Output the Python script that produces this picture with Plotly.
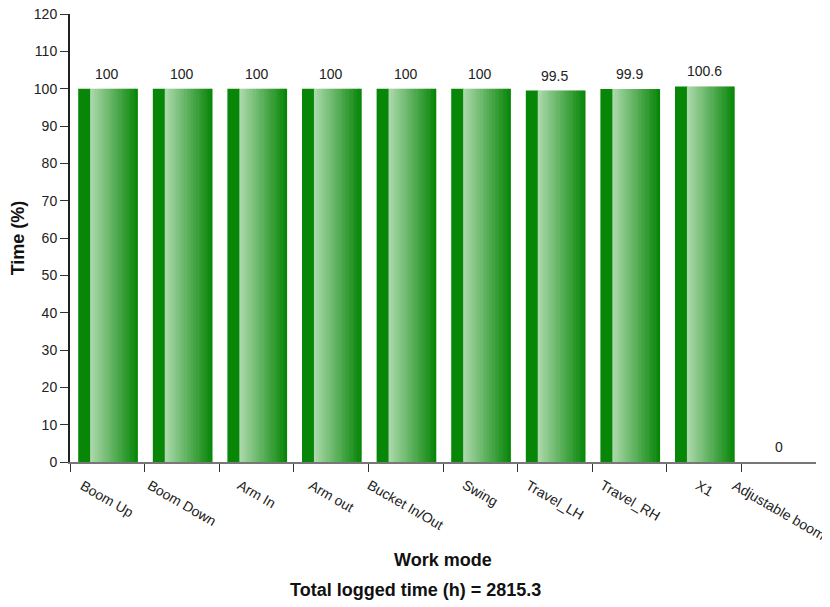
import plotly.graph_objects as go

categories = ["Boom Up", "Boom Down", "Arm In", "Arm out", "Bucket In/Out",
              "Swing", "Travel_LH", "Travel_RH", "X1", "Adjustable boom"]
time_pct = [100, 100, 100, 100, 100, 100, 99.5, 99.9, 100.6, 0]
total_logged_h = 2815.3

xpos = list(range(len(categories)))

# bar geometry in category units (one category = 1.0)
bar_left = -0.39
band_right = -0.23
bar_right = 0.41
n_strips = 20
dark = (8, 134, 8)
light = (170, 216, 170)

fig = go.Figure()

# solid dark band on the left of each bar
fig.add_trace(go.Bar(
    x=xpos, y=time_pct, offset=bar_left, width=band_right - bar_left + 0.01,
    marker=dict(color="rgb(%d,%d,%d)" % dark, line=dict(width=0)),
    showlegend=False, hoverinfo="skip"))

# light -> dark gradient made of thin strips
step = (bar_right - band_right) / n_strips
for k in range(n_strips):
    t = k / (n_strips - 1)
    c = tuple(round(light[j] + (dark[j] - light[j]) * t) for j in range(3))
    w = step + (0.008 if k < n_strips - 1 else 0)
    fig.add_trace(go.Bar(
        x=xpos, y=time_pct, offset=band_right + k * step, width=w,
        marker=dict(color="rgb(%d,%d,%d)" % c, line=dict(width=0)),
        showlegend=False, hoverinfo="skip"))

annotations = []
for x, v in zip(xpos, time_pct):
    annotations.append(dict(
        x=x, y=v, xref="x", yref="y", text=f"{v:g}", showarrow=False,
        yanchor="bottom", yshift=5, font=dict(size=14, color="#222")))
for x, name in zip(xpos, categories):
    annotations.append(dict(
        x=x, y=-0.027, xref="x", yref="paper", text=name, showarrow=False,
        textangle=30, xanchor="center", yanchor="top",
        font=dict(size=14, color="#222")))
annotations.append(dict(
    x=0.5, y=-0.219, xref="paper", yref="paper", text="<b>Work mode</b>",
    showarrow=False, xanchor="center", yanchor="middle",
    font=dict(size=18, color="#111")))
annotations.append(dict(
    x=0.4625, y=-0.286, xref="paper", yref="paper",
    text=f"<b>Total logged time (h) = {total_logged_h}</b>",
    showarrow=False, xanchor="center", yanchor="middle",
    font=dict(size=18, color="#111")))

# the page body adds an 8px margin, so the figure is 8px smaller each way
fig.update_layout(
    width=822, height=599,
    margin=dict(l=62, r=14, t=6, b=145),
    barmode="overlay",
    plot_bgcolor="white", paper_bgcolor="white",
    font=dict(family="Liberation Sans, Arial, sans-serif", color="#222"),
    annotations=annotations,
    xaxis=dict(
        range=[-0.5, len(categories) - 0.5], automargin=False,
        showline=True, linecolor="#777", linewidth=2,
        ticks="outside", ticklen=8, tickcolor="#333", tickwidth=1,
        tickvals=[p - 0.5 for p in xpos], showticklabels=False,
        showgrid=False, zeroline=False),
    yaxis=dict(
        range=[0, 120], dtick=10, automargin=False,
        ticklabeloverflow="allow",
        showline=True, linecolor="#222", linewidth=2,
        ticks="outside", ticklen=8, tickcolor="#333", tickwidth=1,
        tickfont=dict(size=14, color="#222"),
        showgrid=False, zeroline=False,
        title=dict(text="<b>Time (%)</b>", font=dict(size=18, color="#111"),
                   standoff=8)),
)

fig.write_html("out.html")
